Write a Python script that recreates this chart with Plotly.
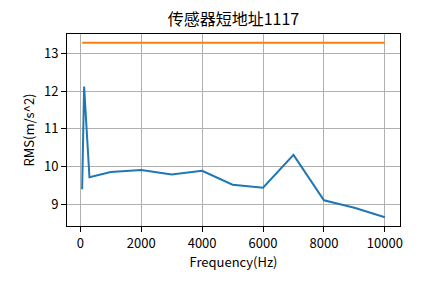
import plotly.graph_objects as go

freq = [60, 125, 300, 1000, 2000, 3000, 4000, 5000, 6000, 7000, 8000, 9000, 10000]
rms = [9.40, 12.12, 9.72, 9.86, 9.91, 9.79, 9.89, 9.52, 9.44, 10.31, 9.11, 8.91, 8.66]
threshold = 13.28
title_text = "传感器短地址1117"
x_label = "Frequency(Hz)"
y_label = "RMS(m/s^2)"
x_ticks = [0, 2000, 4000, 6000, 8000, 10000]
y_ticks = [9, 10, 11, 12, 13]

fig = go.Figure()
fig.add_trace(go.Scatter(x=freq, y=rms, mode="lines",
                         line=dict(color="#1f77b4", width=2), showlegend=False))
fig.add_trace(go.Scatter(x=[freq[0], freq[-1]], y=[threshold, threshold], mode="lines",
                         line=dict(color="#ff7f0e", width=2), showlegend=False))

xmin, xmax = min(freq), max(freq)
xpad = 0.05 * (xmax - xmin)
ymin, ymax = min(rms + [threshold]), max(rms + [threshold])
ypad = 0.05 * (ymax - ymin)

font_family = "Noto Sans CJK SC, DejaVu Sans, sans-serif"
axis_common = dict(showline=True, mirror=True, linecolor="black", linewidth=1,
                   ticks="outside", ticklen=5, tickwidth=1, tickcolor="black",
                   showgrid=True, gridcolor="#b0b0b0", gridwidth=1, zeroline=False,
                   tickfont=dict(size=13, color="black", family=font_family))

fig.update_layout(
    width=444, height=283,
    margin=dict(l=67, r=44, t=34, b=57),
    paper_bgcolor="white", plot_bgcolor="white",
    font=dict(family=font_family, color="black"),
    title=dict(text=title_text, x=0.5, xref="paper", y=1 - 19 / 283, yref="container",
               yanchor="middle", xanchor="center", font=dict(size=16, color="black")),
    xaxis=dict(range=[xmin - xpad, xmax + xpad], tickvals=x_ticks,
               ticktext=[str(t) for t in x_ticks],
               title=dict(text=x_label, font=dict(size=13), standoff=4), **axis_common),
    yaxis=dict(range=[ymin - ypad, ymax + ypad], tickvals=y_ticks,
               ticktext=[str(t) for t in y_ticks],
               title=dict(text=y_label, font=dict(size=13), standoff=6), **axis_common),
)

fig.write_html("out.html")
